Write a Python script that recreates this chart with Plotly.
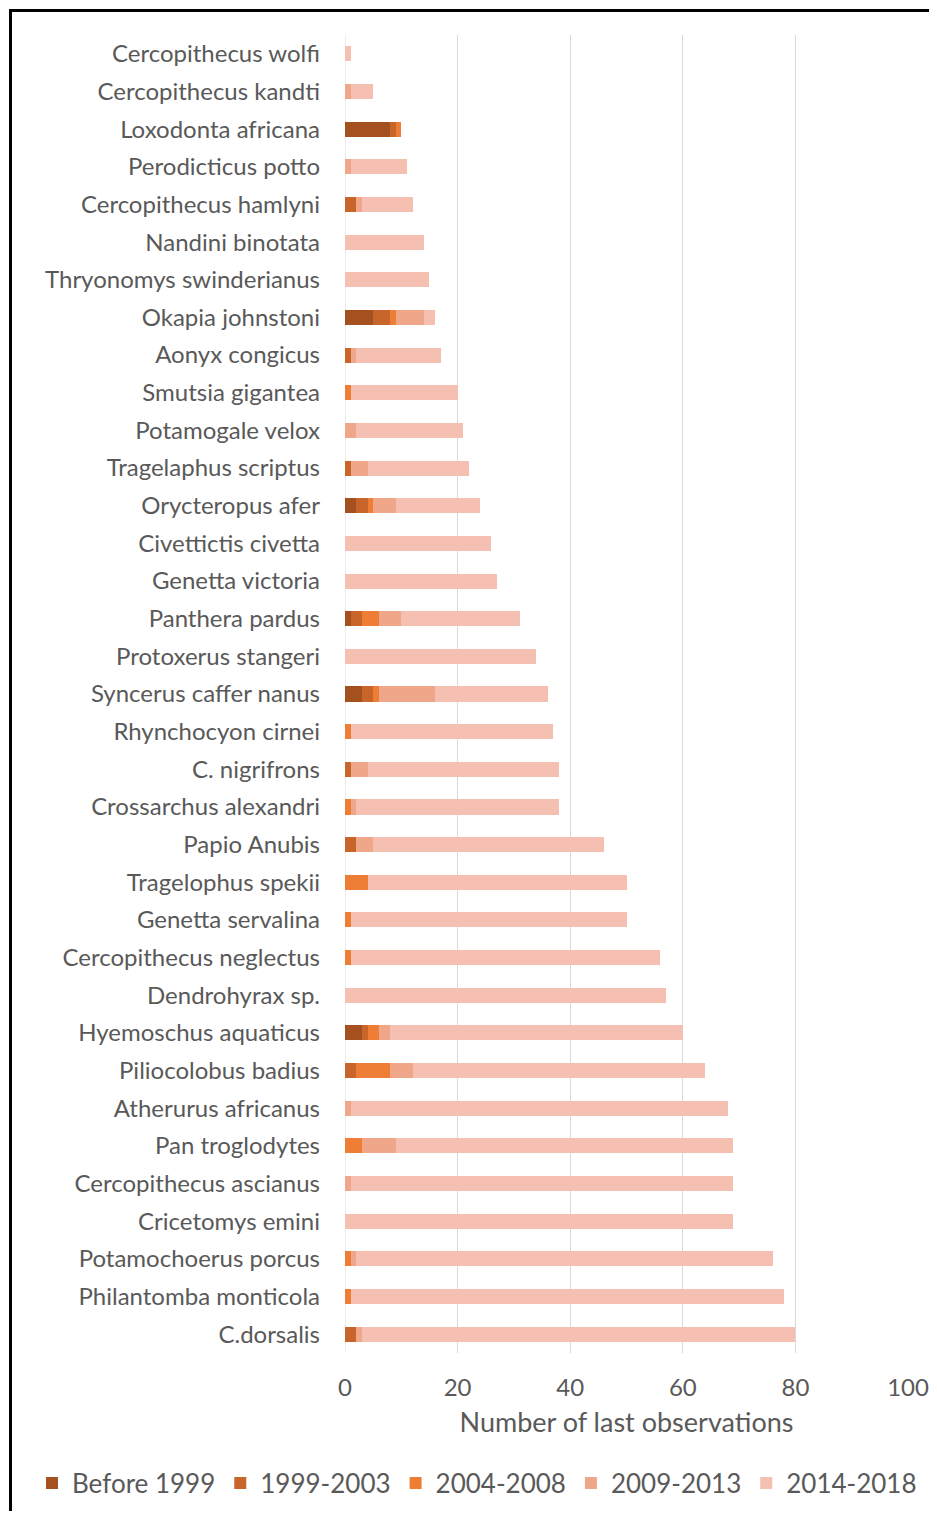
import plotly.graph_objects as go

species = [
    "Cercopithecus wolfi", "Cercopithecus kandti", "Loxodonta africana", "Perodicticus potto",
    "Cercopithecus hamlyni", "Nandini binotata", "Thryonomys swinderianus", "Okapia johnstoni",
    "Aonyx congicus", "Smutsia gigantea", "Potamogale velox", "Tragelaphus scriptus",
    "Orycteropus afer", "Civettictis civetta", "Genetta victoria", "Panthera pardus",
    "Protoxerus stangeri", "Syncerus caffer nanus", "Rhynchocyon cirnei", "C. nigrifrons",
    "Crossarchus alexandri", "Papio Anubis", "Tragelophus spekii", "Genetta servalina",
    "Cercopithecus neglectus", "Dendrohyrax sp.", "Hyemoschus aquaticus", "Piliocolobus badius",
    "Atherurus africanus", "Pan troglodytes", "Cercopithecus ascianus", "Cricetomys emini",
    "Potamochoerus porcus", "Philantomba monticola", "C.dorsalis",
]

before_1999 = [0, 0, 8, 0, 0, 0, 0, 5, 0, 0, 0, 0, 2, 0, 0, 1, 0, 3, 0, 0,
               0, 0, 0, 0, 0, 0, 3, 0, 0, 0, 0, 0, 0, 0, 0]
y1999_2003 = [0, 0, 1, 0, 2, 0, 0, 3, 1, 0, 0, 1, 2, 0, 0, 2, 0, 2, 0, 1,
              0, 2, 0, 0, 0, 0, 1, 2, 0, 0, 0, 0, 0, 0, 2]
y2004_2008 = [0, 0, 1, 0, 0, 0, 0, 1, 0, 1, 0, 0, 1, 0, 0, 3, 0, 1, 1, 0,
              1, 0, 4, 1, 1, 0, 2, 6, 0, 3, 0, 0, 1, 1, 0]
y2009_2013 = [0, 1, 0, 1, 1, 0, 0, 5, 1, 0, 2, 3, 4, 0, 0, 4, 0, 10, 0, 3,
              1, 3, 0, 0, 0, 0, 2, 4, 1, 6, 1, 0, 1, 0, 1]
y2014_2018 = [1, 4, 0, 10, 9, 14, 15, 2, 15, 19, 19, 18, 15, 26, 27, 21, 34, 20, 36, 34,
              36, 41, 46, 49, 55, 57, 52, 52, 67, 60, 68, 69, 74, 77, 77]

series_names = ["Before 1999", "1999-2003", "2004-2008", "2009-2013", "2014-2018"]
series_values = [before_1999, y1999_2003, y2004_2008, y2009_2013, y2014_2018]
series_colors = ["#A4501F", "#C8652B", "#EE7D35", "#F0A689", "#F5C0B1"]

x_ticks = [0, 20, 40, 60, 80, 100]

FONT = "Lato, 'Open Sans', sans-serif"
TXT = "#595959"

fig = go.Figure()
for name, vals, col in zip(series_names, series_values, series_colors):
    fig.add_trace(go.Bar(
        y=species, x=vals, name=name, orientation="h",
        marker=dict(color=col, line=dict(width=0)),
    ))

# page has an 8px body margin on every side; size the figure so the page is exactly 937x1519
OFF = 8
W, H = 937 - 2 * OFF, 1519 - 2 * OFF
L = 345 - OFF
R = W - (908 - OFF)
T = 35 - OFF
B = H - (1353 - OFF)
pw, ph = W - L - R, H - T - B

def px_x(p):
    return (p - OFF - L) / pw

def px_y(p):
    return (H - B - (p - OFF)) / ph

fig.update_layout(
    width=W, height=H,
    margin=dict(l=L, r=R, t=T, b=B, autoexpand=False),
    barmode="stack", bargap=0.6,
    paper_bgcolor="white", plot_bgcolor="white",
    font=dict(family=FONT, color=TXT, size=24),
    showlegend=True,
    legend=dict(
        orientation="h", x=px_x(32), y=px_y(1483), xanchor="left", yanchor="middle",
        font=dict(size=26, color=TXT, family=FONT), traceorder="normal",
        bgcolor="rgba(0,0,0,0)",
    ),
    xaxis=dict(
        range=[0, 100], tickvals=x_ticks, showgrid=True, gridcolor="#D9D9D9", gridwidth=1,
        zeroline=False, showline=False, ticks="", ticklabelstandoff=18,
        tickfont=dict(size=24, color=TXT, family=FONT),
        title=dict(text="Number of last observations", font=dict(size=27, color=TXT, family=FONT),
                   standoff=13),
    ),
    yaxis=dict(
        categoryorder="array", categoryarray=species, autorange="reversed",
        showgrid=False, zeroline=False, showline=False, ticks="", ticklabelstandoff=24,
        tickfont=dict(size=24, color=TXT, family=FONT),
    ),
    shapes=[
        dict(type="line", xref="x", yref="paper", x0=0, x1=0, y0=0, y1=1,
             line=dict(color="#D9D9D9", width=1), layer="below"),
        dict(type="rect", xref="paper", yref="paper",
             x0=px_x(10.5), x1=px_x(945), y0=px_y(1530), y1=px_y(10.5),
             line=dict(color="black", width=3), fillcolor="rgba(0,0,0,0)"),
    ],
)

fig.write_html("out.html")
